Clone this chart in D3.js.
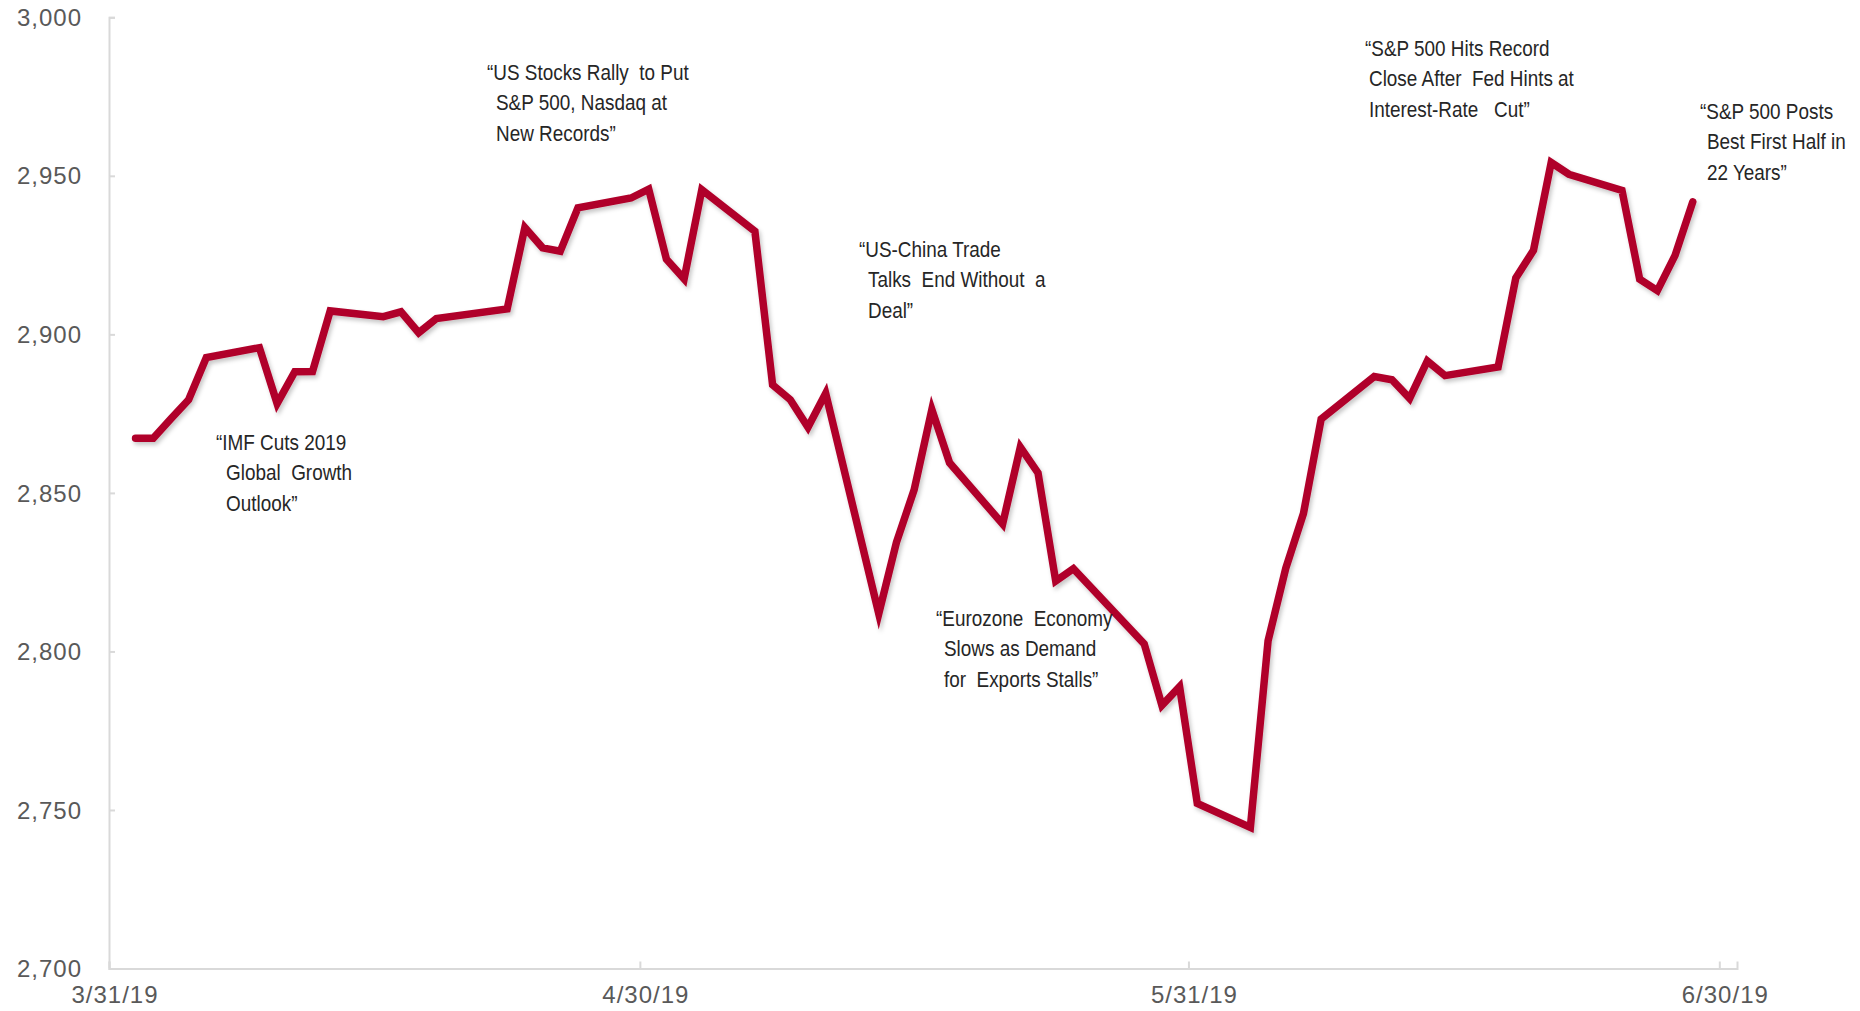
<!DOCTYPE html>
<html>
<head>
<meta charset="utf-8">
<script src="https://cdn.jsdelivr.net/npm/d3@7/dist/d3.min.js"></script>
<style>
  html, body { margin: 0; padding: 0; background: #ffffff; }
  svg { display: block; }
</style>
</head>
<body>
<svg id="chart" width="1860" height="1011"></svg>
<script>
// ---------- DATA ----------
const dates = [
  "2019-04-01","2019-04-02","2019-04-03","2019-04-04","2019-04-05",
  "2019-04-08","2019-04-09","2019-04-10","2019-04-11","2019-04-12",
  "2019-04-15","2019-04-16","2019-04-17","2019-04-18",
  "2019-04-22","2019-04-23","2019-04-24","2019-04-25","2019-04-26",
  "2019-04-29","2019-04-30","2019-05-01","2019-05-02","2019-05-03",
  "2019-05-06","2019-05-07","2019-05-08","2019-05-09","2019-05-10",
  "2019-05-13","2019-05-14","2019-05-15","2019-05-16","2019-05-17",
  "2019-05-20","2019-05-21","2019-05-22","2019-05-23","2019-05-24",
  "2019-05-28","2019-05-29","2019-05-30","2019-05-31",
  "2019-06-03","2019-06-04","2019-06-05","2019-06-06","2019-06-07",
  "2019-06-10","2019-06-11","2019-06-12","2019-06-13","2019-06-14",
  "2019-06-17","2019-06-18","2019-06-19","2019-06-20","2019-06-21",
  "2019-06-24","2019-06-25","2019-06-26","2019-06-27","2019-06-28"
];
const closes = [
  2867.2, 2867.2, 2873.4, 2879.4, 2892.7,
  2895.8, 2878.2, 2888.2, 2888.3, 2907.4,
  2905.6, 2907.1, 2900.5, 2905.0,
  2908.0, 2933.7, 2927.3, 2926.2, 2939.9,
  2943.0, 2945.8, 2923.7, 2917.5, 2945.6,
  2932.5, 2884.1, 2879.4, 2870.7, 2881.4,
  2811.9, 2834.4, 2851.0, 2876.3, 2859.5,
  2840.2, 2864.4, 2856.3, 2822.2, 2826.1,
  2802.4, 2783.0, 2788.9, 2752.1,
  2744.5, 2803.3, 2826.2, 2843.5, 2873.3,
  2886.7, 2885.7, 2879.8, 2891.6, 2887.0,
  2889.7, 2917.8, 2926.5, 2954.2, 2950.5,
  2945.4, 2917.4, 2913.8, 2924.9, 2941.8
];
const yTicks = [2700, 2750, 2800, 2850, 2900, 2950, 3000];
const xTickDates = ["2019-03-31", "2019-04-30", "2019-05-31", "2019-06-30"];
const xTickLabels = ["3/31/19", "4/30/19", "5/31/19", "6/30/19"];
const noteTexts = [
  ["\u201CIMF Cuts 2019", "Global  Growth", "Outlook\u201D"],
  ["\u201CUS Stocks Rally  to Put", "S&P 500, Nasdaq at", "New Records\u201D"],
  ["\u201CUS-China Trade", "Talks  End Without  a", "Deal\u201D"],
  ["\u201CEurozone  Economy", "Slows as Demand", "for  Exports Stalls\u201D"],
  ["\u201CS&P 500 Hits Record", "Close After  Fed Hints at", "Interest-Rate   Cut\u201D"],
  ["\u201CS&P 500 Posts", "Best First Half in", "22 Years\u201D"]
];

// ---------- LAYOUT ----------
const notePos = [   // [quote x, text x, first baseline]
  [216, 226, 450],
  [487, 496, 80],
  [859, 868, 257],
  [936, 944, 626],
  [1365, 1369, 56],
  [1700, 1707, 119]
];
const lineGap = 30.5;
const noteScaleX = 0.86;

const parse = d3.timeParse("%Y-%m-%d");
const svg = d3.select("#chart");

const x = d3.scaleTime()
  .domain([parse("2019-03-31"), parse("2019-07-01")])
  .range([109, 1737]);
const y = d3.scaleLinear()
  .domain([2700, 3000])
  .range([968.5, 17.3]);

const axisColor = "#d9d9d9";
const labelColor = "#595959";

// drop shadow filter
const defs = svg.append("defs");
const f = defs.append("filter").attr("id", "shadow")
  .attr("x", "-5%").attr("y", "-5%").attr("width", "110%").attr("height", "110%");
f.append("feDropShadow").attr("dx", 2).attr("dy", 3).attr("stdDeviation", 2)
  .attr("flood-color", "#000").attr("flood-opacity", 0.22);

// Y axis
const yAxis = d3.axisRight(y).tickValues(yTicks).tickSize(6).tickFormat("");
const yg = svg.append("g").attr("transform", "translate(109,0)").call(yAxis);
yg.select(".domain").attr("stroke", axisColor).attr("stroke-width", 2);
yg.selectAll(".tick line").attr("stroke", axisColor).attr("stroke-width", 2);

svg.append("g").selectAll("text").data(yTicks).join("text")
  .attr("x", 82).attr("y", d => y(d))
  .attr("dy", "0.36em")
  .attr("text-anchor", "end")
  .attr("font-family", "'Liberation Sans', Arial, sans-serif")
  .attr("font-size", 24)
  .attr("letter-spacing", 1)
  .attr("fill", labelColor)
  .text(d => d3.format(",")(d));

// X axis
const xAxis = d3.axisTop(x).tickValues(xTickDates.map(parse)).tickSize(7).tickFormat("");
const xg = svg.append("g").attr("transform", "translate(0,968.5)").call(xAxis);
xg.select(".domain").attr("stroke", axisColor).attr("stroke-width", 2);
xg.selectAll(".tick line").attr("stroke", axisColor).attr("stroke-width", 2);

svg.append("g").selectAll("text").data(xTickDates).join("text")
  .attr("x", d => x(parse(d)) + 6)
  .attr("y", 1003)
  .attr("text-anchor", "middle")
  .attr("font-family", "'Liberation Sans', Arial, sans-serif")
  .attr("font-size", 24)
  .attr("letter-spacing", 1)
  .attr("fill", labelColor)
  .text((d, i) => xTickLabels[i]);

// Line
const pts = dates.map((d, i) => ({ date: d3.timeHour.offset(parse(d), 12), v: closes[i] }));
const line = d3.line().x(d => x(d.date)).y(d => y(d.v));
svg.append("path")
  .datum(pts)
  .attr("d", line)
  .attr("fill", "none")
  .attr("stroke", "#b0002c")
  .attr("stroke-width", 7.5)
  .attr("stroke-linejoin", "miter")
  .attr("stroke-miterlimit", 6)
  .attr("stroke-linecap", "round")
  .attr("filter", "url(#shadow)");

// Annotations (slightly condensed glyphs)
const ng = svg.append("g")
  .attr("font-family", "'Liberation Sans', Arial, sans-serif")
  .attr("font-size", 22)
  .attr("fill", "#262626");
noteTexts.forEach((lines, i) => {
  const [qx, tx, by] = notePos[i];
  const t = ng.append("text")
    .attr("xml:space", "preserve")
    .attr("transform", `translate(${qx},${by}) scale(${noteScaleX},1)`);
  lines.forEach((s, j) => {
    t.append("tspan")
      .attr("x", j === 0 ? 0 : (tx - qx) / noteScaleX)
      .attr("y", j * lineGap)
      .text(s);
  });
});
</script>
</body>
</html>
